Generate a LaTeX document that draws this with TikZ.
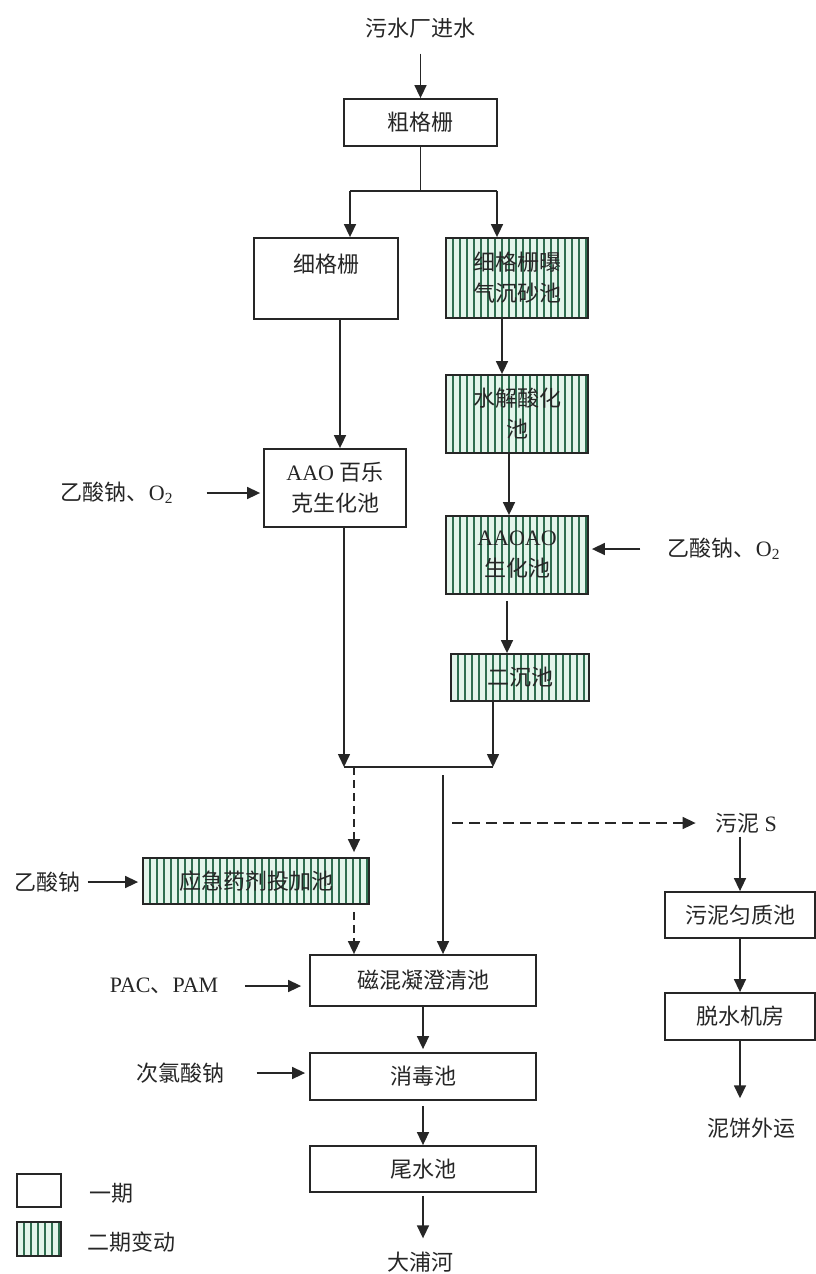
\documentclass[tikz,border=0pt]{standalone}
\usepackage{fontspec}
\setmainfont{Liberation Serif}
\newfontfamily\cjk{Noto Sans CJK SC}
\usetikzlibrary{arrows.meta,calc}
\definecolor{hbg}{HTML}{E3F5EB}
\definecolor{hln}{HTML}{2F6E50}
\definecolor{ink}{HTML}{262626}
\newcommand\zhs[1]{{\cjk #1}}
\begin{document}
\begin{tikzpicture}[x=1pt,y=-1pt,
  font=\fontsize{22}{31}\selectfont,
  every node/.style={text=ink},
  box/.style={draw=ink, line width=1.8pt, fill=white, inner sep=0pt, align=center},
  hbox/.style={box, fill=hbg, text=black!85,
    path picture={\foreach \k in {1,...,40}{\draw[hln, line width=1.4pt]
      ([xshift=\k*7pt]path picture bounding box.south west) --
      ([xshift=\k*7pt]path picture bounding box.north west);}}},
  ln/.style={draw=ink, line width=1.6pt},
  arr/.style={ln, -{Triangle[length=13pt,width=12pt]}},
  darr/.style={arr, dash pattern=on 8pt off 5pt}]
\useasboundingbox (0,0) rectangle (816,1274);

% main column nodes
\node (in) at (420.5,28) {\zhs{污水厂进水}};
\node[box, minimum width=153pt, minimum height=47pt] (cu) at (420.5,122.5) {\zhs{粗格栅}};
\node[box, minimum width=144pt, minimum height=81pt] (xi) at (326,278.5) {};
\node (xit) at ([yshift=-27pt]xi.north) {\zhs{细格栅}};
\node[hbox, minimum width=142pt, minimum height=80pt] (xc) at (517,278) {\zhs{细格栅曝}\\\zhs{气沉砂池}};
\node[hbox, minimum width=142pt, minimum height=78pt] (sj) at (517,414) {\zhs{水解酸化}\\\zhs{池}};
\node[box, minimum width=142pt, minimum height=78pt] (aao) at (335,488) {AAO \zhs{百乐}\\\zhs{克生化池}};
\node[hbox, minimum width=142pt, minimum height=78pt] (ao) at (517,555) {AAOAO\\\zhs{生化池}};
\node[hbox, minimum width=138pt, minimum height=47pt] (ec) at (520,677.5) {\zhs{二沉池}};
\node[hbox, minimum width=226pt, minimum height=46pt] (yj) at (256,881) {\zhs{应急药剂投加池}};
\node[box, minimum width=226pt, minimum height=51pt] (cx) at (423,980.5) {\zhs{磁混凝澄清池}};
\node[box, minimum width=226pt, minimum height=47pt] (xd) at (423,1076.5) {\zhs{消毒池}};
\node[box, minimum width=226pt, minimum height=46pt] (ws) at (423,1169) {\zhs{尾水池}};
\node (out) at (420,1262) {\zhs{大浦河}};

% sludge line
\node (sl0) at (746,823) {\zhs{污泥} S};
\node[box, minimum width=150pt, minimum height=46pt] (wn) at (740,915) {\zhs{污泥匀质池}};
\node[box, minimum width=150pt, minimum height=47pt] (ts) at (740,1016.5) {\zhs{脱水机房}};
\node (nb) at (751,1128) {\zhs{泥饼外运}};

% chemicals
\node (c1) at (117,493) {\zhs{乙酸钠、}O\textsubscript{2}};
\node (c2) at (724,549) {\zhs{乙酸钠、}O\textsubscript{2}};
\node (c3) at (47,882) {\zhs{乙酸钠}};
\node (c4) at (164,986) {PAC\zhs{、}PAM};
\node (c5) at (180,1073) {\zhs{次氯酸钠}};

% legend
\node[box, minimum width=44pt, minimum height=33pt] (lg1) at (39,1190.5) {};
\node[hbox, minimum width=44pt, minimum height=34pt] (lg2) at (39,1239) {};
\node (lt1) at (111,1193) {\zhs{一期}};
\node (lt2) at (131,1242) {\zhs{二期变动}};

% connectors
\draw[arr, shorten <=12pt] (in) -- (cu);
\coordinate (sp) at (cu.south |- 0,191);
\coordinate (spl) at (350,191);
\coordinate (spr) at (497,191);
\draw[ln] (cu.south) -- (sp);
\draw[ln] (spl) -- (spr);
\draw[arr] (spl) -- (spl |- xi.north);
\draw[arr] (spr) -- (spr |- xc.north);
\draw[arr] ([xshift=14pt]xi.south) -- ([xshift=14pt]xi.south |- aao.north);
\draw[arr] ([xshift=-15pt]xc.south) -- ([xshift=-15pt]xc.south |- sj.north);
\draw[arr] ([xshift=-8pt]sj.south) -- ([xshift=-8pt]sj.south |- ao.north);
\draw[arr, shorten <=6pt] ([xshift=-10pt]ao.south) -- ([xshift=-10pt]ao.south |- ec.north);
\coordinate (ml) at (344,767);
\coordinate (mr) at (493,767);
\draw[arr] ([xshift=9pt]aao.south) -- (ml);
\draw[arr] (ec.south -| mr) -- (mr);
\draw[ln] (ml) -- (mr);
\coordinate (md) at (354,767);
\draw[darr, shorten >=5pt] (md) -- (md |- yj.north);
\draw[darr, shorten <=7pt] (yj.south -| md) -- (md |- cx.north);
\coordinate (mc) at (443,775);
\draw[arr] (mc) -- (mc |- cx.north);
\coordinate (sd) at (452,823);
\draw[darr, dash pattern=on 11pt off 6pt, shorten >=16pt] (sd) -- (sl0.west);
\draw[arr] (wn.north |- sl0.south) -- (wn.north);
\draw[arr] (wn) -- (ts);
\draw[arr, shorten >=16pt] (ts.south) -- (ts.south |- nb.north);
\draw[arr, shorten <=30pt, shorten >=3pt] (c1.east) -- (c1.east -| aao.west);
\draw[arr, shorten <=24pt, shorten >=3pt] (c2.west) -- (c2.west -| ao.east);
\draw[arr, shorten <=4pt, shorten >=4pt] (c3.east) -- (c3.east -| yj.west);
\draw[arr, shorten <=23pt, shorten >=8pt] (c4.east) -- (c4.east -| cx.west);
\draw[arr, shorten <=29pt, shorten >=4pt] (c5.east) -- (c5.east -| xd.west);
\draw[arr, shorten >=3pt] (cx) -- (xd);
\draw[arr, shorten <=5pt] (xd) -- (ws);
\draw[arr, shorten <=3pt, shorten >=10pt] (ws.south) -- (ws.south |- out.north);
\end{tikzpicture}
\end{document}
